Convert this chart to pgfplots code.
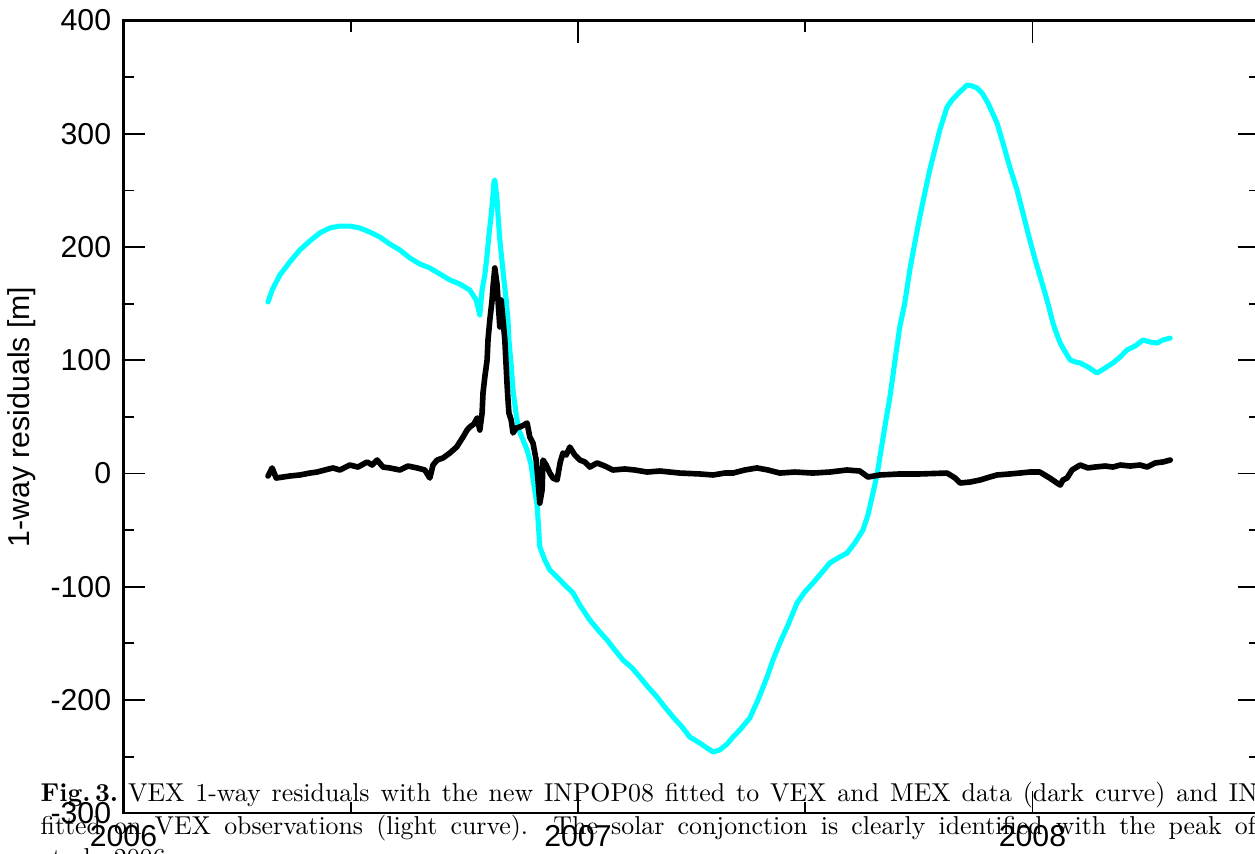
\documentclass[border=0pt]{standalone}
\usepackage{pgfplots}
\pgfplotsset{compat=1.18}
\usepackage{fontspec}
\newfontfamily\arial{Liberation Sans}
\newfontfamily\capfont{lmroman10-regular.otf}[BoldFont=lmroman10-bold.otf]
\definecolor{lightcurve}{RGB}{0,255,255}

\begin{document}
\begin{tikzpicture}
\useasboundingbox (0,0) rectangle (12.55,8.54);
\clip (0,0) rectangle (12.55,8.54);
\begin{axis}[
  at={(1.235cm,0.4075cm)}, anchor=south west,
  scale only axis, width=11.3625cm, height=7.9275cm,
  xmin=2006, xmax=2008.5, ymin=-300, ymax=400,
  xtick={2006,2007,2008}, xticklabels={2006,2007,2008},
  ytick={-300,-200,...,400},
  yticklabels={-300,-200,-100,0,100,200,300,400},
  minor x tick num=1, minor y tick num=1,
  major tick length=0.22cm, minor tick length=0.11cm,
  tick align=inside,
  axis line style={line width=0.6pt},
  every tick/.style={black, line width=0.5pt},
  tick label style={font=\arial\fontsize{8.6}{10}\selectfont},
  ylabel={1-way residuals [m]},
  ylabel style={font=\arial\fontsize{8.6}{10}\selectfont,
    at={(axis description cs:-0.0893,0.5)}, anchor=center},
]
% light curve: INPOP06 fitted on VEX
\addplot[lightcurve, line width=1.45pt, line join=round, line cap=round, mark=none] coordinates {
(2006.318,151.4)(2006.327,162.0)(2006.344,175.3)(2006.366,186.8)(2006.388,197.4)
(2006.410,205.3)(2006.432,212.4)(2006.454,216.8)(2006.476,218.5)(2006.498,218.5)
(2006.520,216.8)(2006.542,213.2)(2006.564,208.8)(2006.586,202.6)(2006.608,197.4)
(2006.630,190.3)(2006.652,185.0)(2006.674,181.5)(2006.696,176.2)(2006.718,170.9)
(2006.740,167.3)(2006.762,162.0)(2006.776,153.2)(2006.784,140.0)(2006.789,162.0)
(2006.795,175.3)(2006.800,192.9)(2006.804,210.6)(2006.809,228.3)(2006.813,245.9)
(2006.815,257.4)(2006.817,259.2)(2006.822,241.5)(2006.824,228.3)(2006.828,206.2)
(2006.833,186.8)(2006.837,170.9)(2006.842,153.2)(2006.846,135.5)(2006.848,117.9)
(2006.853,95.8)(2006.857,73.7)(2006.864,51.7)(2006.870,38.4)(2006.879,29.6)
(2006.888,20.8)(2006.897,7.5)(2006.903,-10.2)(2006.910,-27.8)(2006.916,-64.9)
(2006.927,-76.4)(2006.938,-85.2)(2006.954,-91.4)(2006.971,-98.5)(2006.989,-105.5)
(2007.004,-116.1)(2007.026,-129.4)(2007.048,-140.0)(2007.064,-147.0)(2007.081,-155.8)
(2007.099,-164.7)(2007.119,-171.7)(2007.136,-179.7)(2007.154,-188.5)(2007.174,-197.4)
(2007.191,-206.2)(2007.209,-215.0)(2007.229,-223.8)(2007.246,-232.7)(2007.268,-238.0)
(2007.284,-242.4)(2007.297,-245.9)(2007.312,-244.1)(2007.328,-238.9)(2007.341,-232.7)
(2007.356,-226.5)(2007.378,-215.9)(2007.396,-200.0)(2007.416,-179.7)(2007.429,-164.7)
(2007.444,-149.7)(2007.462,-133.8)(2007.482,-114.3)(2007.499,-104.6)(2007.517,-96.7)
(2007.532,-89.6)(2007.554,-79.0)(2007.572,-74.6)(2007.592,-70.2)(2007.609,-61.4)
(2007.627,-49.9)(2007.638,-36.6)(2007.649,-17.2)(2007.658,-1.3)(2007.664,13.7)
(2007.675,41.1)(2007.686,66.7)(2007.697,98.5)(2007.708,129.4)(2007.719,150.6)
(2007.730,179.7)(2007.741,203.5)(2007.752,226.5)(2007.763,247.7)(2007.774,268.0)
(2007.785,285.7)(2007.796,303.3)(2007.812,323.6)(2007.823,329.8)(2007.840,336.9)
(2007.856,343.0)(2007.867,342.2)(2007.878,340.4)(2007.889,336.0)(2007.902,327.2)
(2007.922,309.5)(2007.935,291.8)(2007.950,270.6)(2007.966,250.3)(2007.979,230.0)
(2007.990,212.4)(2008.006,188.5)(2008.021,168.2)(2008.032,153.2)(2008.045,132.9)
(2008.054,122.3)(2008.061,115.2)(2008.072,107.3)(2008.083,100.2)(2008.094,98.5)
(2008.105,97.6)(2008.122,94.0)(2008.142,88.7)(2008.160,93.2)(2008.177,97.6)
(2008.193,102.9)(2008.208,109.1)(2008.226,112.6)(2008.243,117.9)(2008.259,116.1)
(2008.274,115.2)(2008.287,117.9)(2008.303,119.6)
};
% dark curve: INPOP08 fitted on VEX and MEX
\addplot[black, line width=1.6pt, line join=round, line cap=round, mark=none] coordinates {
(2006.318,-2.2)(2006.327,4.9)(2006.336,-4.0)(2006.351,-3.1)(2006.366,-2.2)
(2006.388,-1.3)(2006.410,0.4)(2006.426,1.3)(2006.443,3.1)(2006.461,4.9)
(2006.476,3.1)(2006.498,7.5)(2006.516,5.7)(2006.536,10.2)(2006.547,7.5)
(2006.558,11.9)(2006.571,5.7)(2006.586,4.9)(2006.608,3.1)(2006.626,6.6)
(2006.646,4.9)(2006.663,3.1)(2006.674,-4.0)(2006.681,7.5)(2006.690,11.9)
(2006.703,13.7)(2006.718,18.1)(2006.733,23.4)(2006.747,32.2)(2006.756,38.4)
(2006.762,41.1)(2006.771,43.7)(2006.778,49.0)(2006.784,38.4)(2006.789,53.4)
(2006.791,71.1)(2006.795,85.2)(2006.800,100.2)(2006.802,117.9)(2006.806,135.5)
(2006.811,153.2)(2006.813,164.7)(2006.817,181.5)(2006.822,166.5)(2006.824,153.2)
(2006.828,129.4)(2006.831,153.2)(2006.835,135.5)(2006.839,117.9)(2006.844,78.3)
(2006.846,65.1)(2006.848,53.4)(2006.853,47.2)(2006.857,35.8)(2006.864,40.2)
(2006.872,41.1)(2006.881,42.8)(2006.888,44.6)(2006.894,32.2)(2006.901,26.9)
(2006.908,11.9)(2006.912,-5.7)(2006.916,-26.1)(2006.921,-14.6)(2006.923,11.9)
(2006.930,7.5)(2006.938,0.4)(2006.945,-4.0)(2006.954,-5.7)(2006.961,10.2)
(2006.967,18.1)(2006.974,16.3)(2006.982,23.4)(2006.993,16.3)(2007.004,11.9)
(2007.015,10.2)(2007.026,5.7)(2007.042,9.3)(2007.059,6.6)(2007.077,3.1)
(2007.103,4.0)(2007.125,3.1)(2007.152,1.3)(2007.180,2.2)(2007.224,0.4)
(2007.268,-0.4)(2007.297,-1.3)(2007.323,0.4)(2007.341,0.4)(2007.367,3.1)
(2007.394,4.9)(2007.418,3.1)(2007.444,0.4)(2007.477,1.3)(2007.517,0.4)
(2007.554,1.3)(2007.592,3.1)(2007.620,2.2)(2007.638,-3.1)(2007.664,-1.3)
(2007.708,-0.4)(2007.752,-0.4)(2007.812,0.4)(2007.830,-4.0)(2007.841,-8.4)
(2007.863,-7.5)(2007.885,-5.7)(2007.906,-3.1)(2007.922,-1.3)(2007.950,-0.4)
(2007.972,0.4)(2007.994,1.3)(2008.016,1.3)(2008.038,-4.0)(2008.054,-8.4)
(2008.061,-10.2)(2008.067,-5.7)(2008.076,-4.0)(2008.087,3.1)(2008.105,7.5)
(2008.122,4.9)(2008.137,5.7)(2008.160,6.6)(2008.177,5.7)(2008.193,7.5)
(2008.215,6.6)(2008.237,7.5)(2008.252,5.7)(2008.270,9.3)(2008.287,10.2)
(2008.303,11.9)
};
\end{axis}
% caption of the source figure, overlapping the lower edge
\node[anchor=base west, inner sep=0, font=\capfont\fontsize{7.35}{9}\selectfont] at (0.40,0.527)
  {\makebox[12.17cm][s]{\textbf{Fig.\,3.}\hspace{0.9ex}VEX 1-way residuals with the new INPOP08 fitted to VEX and MEX data (dark curve) and IN}};
\node[anchor=base west, inner sep=0, font=\capfont\fontsize{7.35}{9}\selectfont] at (0.40,0.20)
  {\makebox[12.15cm][s]{fitted on VEX observations (light curve). The solar conjonction is clearly identified with the peak of}};
\node[anchor=base west, inner sep=0, font=\capfont\fontsize{7.35}{9}\selectfont] at (0.40,-0.13)
  {et al., 2006.};
\end{tikzpicture}
\end{document}
